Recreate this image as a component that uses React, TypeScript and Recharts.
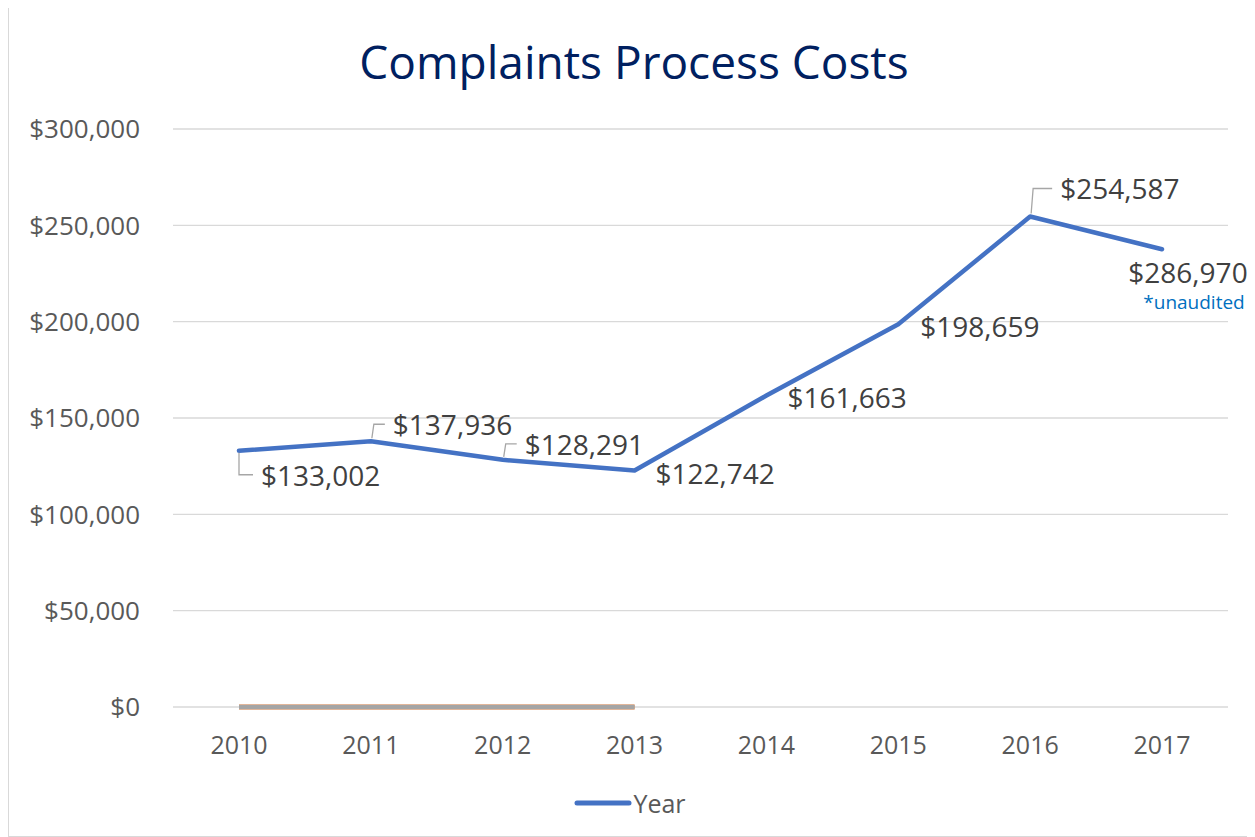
import React from 'react';
import { LineChart, Line, XAxis, YAxis, CartesianGrid, Legend, LabelList } from 'recharts';

// values
const years = ['2010', '2011', '2012', '2013', '2014', '2015', '2016', '2017'];
const costs = [133002, 137936, 128291, 122742, 161663, 198659, 254587, 237600];
const costLabels = ['$133,002', '$137,936', '$128,291', '$122,742', '$161,663', '$198,659', '$254,587', '$286,970'];
const baseline = [0, 0, 0, 0, null, null, null, null];
const yTicks = [0, 50000, 100000, 150000, 200000, 250000, 300000];
const footnote = '*unaudited';

const data = years.map((year, i) => ({
  year,
  cost: costs[i],
  label: costLabels[i],
  zeroA: baseline[i],
  zeroB: baseline[i],
}));

const FONT = '"Open Sans", sans-serif';
const BLUE = '#4472C4';

// where each data label sits relative to its point
const PLACEMENT = [
  { dx: 22, dy: 24, anchor: 'start', leader: 'down' },
  { dx: 22, dy: -17, anchor: 'start', leader: 'up' },
  { dx: 22, dy: -16, anchor: 'start', leader: 'up' },
  { dx: 21, dy: 2, anchor: 'start', leader: null },
  { dx: 21, dy: 1, anchor: 'start', leader: null },
  { dx: 22, dy: 2, anchor: 'start', leader: null },
  { dx: 30, dy: -28, anchor: 'start', leader: 'up' },
  { dx: 26, dy: 23, anchor: 'middle', leader: null, note: true },
];

const fmt = (v: number) => '$' + v.toLocaleString('en-US');

const CostLabel = (props: any) => {
  const { x, y, index } = props;
  const p = PLACEMENT[index];
  if (!p || x == null || y == null) return null;
  const tx = x + p.dx;
  const ty = y + p.dy;
  let leader = null;
  if (p.leader === 'down') {
    leader = <path d={`M${x},${y + 2} L${x},${ty} L${tx - 8},${ty}`} fill="none" stroke="#a6a6a6" strokeWidth={1.3} />;
  } else if (p.leader === 'up') {
    leader = <path d={`M${x + 1},${y - 3} L${x + 3},${ty} L${tx - 8},${ty}`} fill="none" stroke="#a6a6a6" strokeWidth={1.3} />;
  }
  return (
    <g>
      {leader}
      <text x={tx} y={ty} textAnchor={p.anchor} dominantBaseline="central" fill="#404040" fontSize={28} fontFamily={FONT}>
        {costLabels[index]}
      </text>
      {p.note && (
        <text x={tx + 6} y={ty + 30} textAnchor="middle" dominantBaseline="central" fill="#0070C0" fontSize={19} fontFamily={FONT}>
          {footnote}
        </text>
      )}
    </g>
  );
};

const LegendContent = () => (
  <div style={{ display: 'flex', justifyContent: 'center', alignItems: 'center', height: 40, paddingLeft: 22 }}>
    <svg width={60} height={10}>
      <line x1={4} y1={5} x2={56} y2={5} stroke={BLUE} strokeWidth={5} strokeLinecap="round" />
    </svg>
    <span style={{ fontFamily: FONT, fontSize: 25, color: '#595959' }}>Year</span>
  </div>
);

export default function App() {
  return (
    <div
      style={{
        position: 'relative',
        width: 1247,
        height: 831,
        marginTop: -2,
        border: '1px solid #d9d9d9',
        boxSizing: 'border-box',
        background: '#fff',
      }}
    >
      <div
        style={{
          position: 'absolute',
          top: 28,
          left: 0,
          width: 1250,
          textAlign: 'center',
          fontFamily: FONT,
          fontSize: 46,
          color: '#002060',
          lineHeight: '52px',
        }}
      >
        Complaints Process Costs
      </div>
      <LineChart width={1247} height={831} data={data} margin={{ top: 122, right: 28, left: 0, bottom: 15 }}>
        <CartesianGrid vertical={false} stroke="#d9d9d9" strokeWidth={1.3} />
        <XAxis
          dataKey="year"
          axisLine={false}
          tickLine={false}
          height={76}
          padding={{ left: 66, right: 66 }}
          tickMargin={23}
          tick={{ fill: '#595959', fontSize: 25, fontFamily: FONT }}
        />
        <YAxis
          width={164}
          domain={[0, 300000]}
          ticks={yTicks}
          axisLine={false}
          tickLine={false}
          tickMargin={27}
          tickFormatter={fmt}
          tick={{ fill: '#595959', fontSize: 26, fontFamily: FONT }}
        />
        <Legend verticalAlign="bottom" height={40} content={<LegendContent />} />
        <Line dataKey="zeroA" stroke="#ED7D31" strokeWidth={4.8} dot={false} legendType="none" isAnimationActive={false} />
        <Line dataKey="zeroB" stroke="#A5A5A5" strokeWidth={4.5} dot={false} legendType="none" isAnimationActive={false} />
        <Line
          dataKey="cost"
          name="Year"
          stroke={BLUE}
          strokeWidth={4.5}
          strokeLinecap="round"
          strokeLinejoin="round"
          dot={false}
          isAnimationActive={false}
        >
          <LabelList dataKey="label" content={<CostLabel />} />
        </Line>
      </LineChart>
    </div>
  );
}
